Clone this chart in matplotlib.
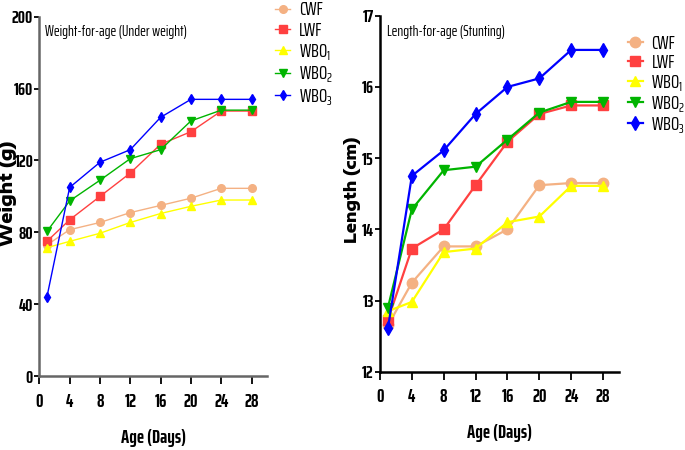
import matplotlib
matplotlib.use('Agg')
import matplotlib.pyplot as plt

narrow = ['Saira ExtraCondensed', 'DejaVu Sans']
heavy = ['Encode Sans Expanded', 'DejaVu Sans']
plt.rcParams['font.family'] = narrow
plt.rcParams['mathtext.fontset'] = 'custom'
plt.rcParams['mathtext.rm'] = 'Saira ExtraCondensed'
plt.rcParams['mathtext.it'] = 'Saira ExtraCondensed'

# Data
days = [1, 4, 8, 12, 16, 20, 24, 28]
groups = ['CWF', 'LWF', 'WBO$_1$', 'WBO$_2$', 'WBO$_3$']

weight_cwf = [73, 81.5, 85.5, 91, 95, 99, 104.5, 104.5]
weight_lwf = [75, 87, 100, 113, 129, 136, 147.5, 147.5]
weight_wbo1 = [71.5, 75, 79.5, 85.5, 90.5, 94.5, 98, 98]
weight_wbo2 = [80.5, 97.5, 109, 121, 126, 142, 148, 148]
weight_wbo3 = [44, 105, 119, 126, 144, 154, 154, 154]

length_cwf = [12.65, 13.25, 13.76, 13.76, 14.0, 14.62, 14.65, 14.65]
length_lwf = [12.73, 13.73, 14.0, 14.62, 15.23, 15.62, 15.74, 15.74]
length_wbo1 = [12.85, 12.98, 13.68, 13.73, 14.1, 14.18, 14.61, 14.61]
length_wbo2 = [12.9, 14.28, 14.83, 14.88, 15.26, 15.64, 15.79, 15.79]
length_wbo3 = [12.61, 14.75, 15.11, 15.62, 16.0, 16.12, 16.52, 16.52]

colors = ['#F4B183', '#FF4040', '#FFFF00', '#00B400', '#0000FF']
markers = ['o', 's', '^', 'v', 'd']

weights = [weight_cwf, weight_lwf, weight_wbo1, weight_wbo2, weight_wbo3]
lengths = [length_cwf, length_lwf, length_wbo1, length_wbo2, length_wbo3]

fig = plt.figure(figsize=(6.85, 4.5), dpi=100)
ax1 = fig.add_axes([0.0574, 0.164, 0.332, 0.799])
ax2 = fig.add_axes([0.5547, 0.174, 0.349, 0.791])

# Left panel: weight
for vals, c, m, g in zip(weights, colors, markers, groups):
    ax1.plot(days, vals, color=c, marker=m, markersize=5.5, linewidth=1.0, label=g)
ax1.set_xlim(0, 30)
ax1.set_ylim(0, 200)
ax1.set_xticks([0, 4, 8, 12, 16, 20, 24, 28])
ax1.set_yticks([0, 40, 80, 120, 160, 200])
ax1.set_xlabel('Age (Days)', fontsize=14, fontweight='bold', labelpad=13)
ax1.set_ylabel('Weight (g)', fontsize=12.5, fontweight=800, family=heavy)
ax1.yaxis.set_label_coords(-0.1, 0.51)
ax1.text(0.025, 0.957, 'Weight-for-age (Under weight)', transform=ax1.transAxes,
         fontsize=11, va='center', ha='left')
ax1.legend(loc='upper left', bbox_to_anchor=(0.402, 0.997), bbox_transform=fig.transFigure,
           frameon=False, fontsize=14, handlelength=0.75, handletextpad=0.45,
           labelspacing=0.12, borderaxespad=0, borderpad=0)

# Right panel: length
for vals, c, m, g in zip(lengths, colors, markers, groups):
    ax2.plot(days, vals, color=c, marker=m, markersize=7.5, linewidth=1.6, label=g)
ax2.set_xlim(0, 30)
ax2.set_ylim(12, 17)
ax2.set_xticks([0, 4, 8, 12, 16, 20, 24, 28])
ax2.set_yticks([12, 13, 14, 15, 16, 17])
ax2.set_xlabel('Age (Days)', fontsize=14, fontweight='bold', labelpad=13)
ax2.set_ylabel('Length (cm)', fontsize=11.5, fontweight=800, family=heavy)
ax2.yaxis.set_label_coords(-0.08, 0.51)
ax2.text(0.03, 0.954, 'Length-for-age (Stunting)', transform=ax2.transAxes,
         fontsize=11, va='center', ha='left')
ax2.legend(loc='upper left', bbox_to_anchor=(0.917, 0.922), bbox_transform=fig.transFigure,
           frameon=False, fontsize=14, handlelength=0.75, handletextpad=0.45,
           labelspacing=0.05, borderaxespad=0, borderpad=0)

for ax, sc in [(ax1, '#666666'), (ax2, 'black')]:
    ax.spines['top'].set_visible(False)
    ax.spines['right'].set_visible(False)
    for s in ['left', 'bottom']:
        ax.spines[s].set_linewidth(1.8)
        ax.spines[s].set_color(sc)
    ax.tick_params(axis='x', length=6, width=1.3, labelsize=13.5, pad=6)
    ax.tick_params(axis='y', length=3.5, width=1.3, labelsize=13, pad=1)
    for lab in ax.get_xticklabels() + ax.get_yticklabels():
        lab.set_fontweight('bold')

fig.savefig('out.png', dpi=100)
